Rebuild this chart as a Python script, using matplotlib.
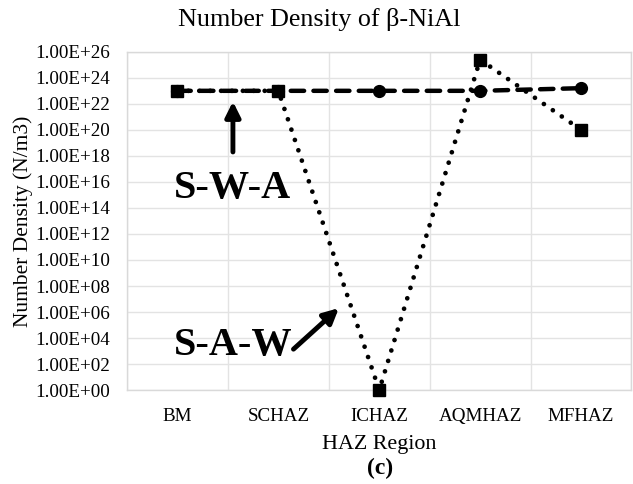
import matplotlib
matplotlib.use('Agg')
import matplotlib.pyplot as plt
from matplotlib.ticker import FixedLocator, FuncFormatter, NullFormatter

plt.rcParams['font.family'] = ['Liberation Serif', 'DejaVu Serif']

regions = ['BM', 'SCHAZ', 'ICHAZ', 'AQMHAZ', 'MFHAZ']
swa = [1e23, 1e23, 1e23, 1e23, 1.6e23]
saw = [1e23, 1e23, 1e0, 2.5e25, 1e20]
yticks = [10.0 ** p for p in range(0, 27, 2)]

fig = plt.figure(figsize=(6.33, 4.84), dpi=100)
ax = fig.add_axes([0.2006, 0.194, 0.797, 0.699])

x = list(range(len(regions)))

# S-W-A: dashed with circles
ax.plot(x, swa, color='black', lw=3.2, linestyle=(0, (3.0, 2.1)),
        dash_capstyle='round', marker='o', markersize=8.5, clip_on=False, zorder=3)
# S-A-W: dotted with squares
ax.plot(x, saw, color='black', lw=3.4, linestyle=(0, (0.01, 2.3)),
        dash_capstyle='round', marker='s', markersize=8, clip_on=False, zorder=4)

ax.set_yscale('log')
ax.set_ylim(1e0, 1e26)
ax.set_xlim(-0.5, len(regions) - 0.5)
ax.yaxis.set_major_locator(FixedLocator(yticks))
ax.yaxis.set_minor_locator(FixedLocator([]))
ax.yaxis.set_major_formatter(FuncFormatter(lambda v, p: f'{v:.2E}'))
ax.yaxis.set_minor_formatter(NullFormatter())

ax.set_xticks(x)
ax.set_xticklabels(regions)
ax.xaxis.set_minor_locator(FixedLocator([i + 0.5 for i in range(-1, len(regions))]))
ax.tick_params(which='both', length=0, labelsize=13.7, colors='black')
ax.tick_params(axis='x', pad=13)
ax.tick_params(axis='y', pad=12)

ax.grid(True, which='major', axis='y', color='#e3e3e3', lw=1)
ax.grid(True, which='minor', axis='x', color='#e3e3e3', lw=1)
ax.set_axisbelow(True)
for s in ax.spines.values():
    s.set_color('#d9d9d9')
    s.set_linewidth(1)

ax.set_ylabel('Number Density (N/m3)', fontsize=15.5, labelpad=2)
ax.set_xlabel('HAZ Region', fontsize=15.8, labelpad=7)
fig.text(0.6, 0.033, '(c)', fontsize=17, fontweight='bold', ha='center', va='center')
fig.text(0.504, 0.959, 'Number Density of \u03b2-NiAl', fontsize=18.8, ha='center', va='center')

# labels with arrows pointing at the two curves
ax.annotate('', xy=(0.55, 1.5e22), xytext=(0.55, 2e18),
            arrowprops=dict(arrowstyle='-|>,head_width=0.45,head_length=0.9',
                            color='black', lw=3.5, shrinkA=0, shrinkB=0))
ax.text(0.55, 3e15, 'S-W-A', fontsize=29, fontweight='bold', ha='center', va='center')
ax.annotate('', xy=(1.6, 2e6), xytext=(1.15, 1.4e3),
            arrowprops=dict(arrowstyle='-|>,head_width=0.45,head_length=0.9',
                            color='black', lw=3.5, shrinkA=0, shrinkB=0))
ax.text(0.55, 2.5e3, 'S-A-W', fontsize=29, fontweight='bold', ha='center', va='center')

fig.savefig('out.png', dpi=100)
